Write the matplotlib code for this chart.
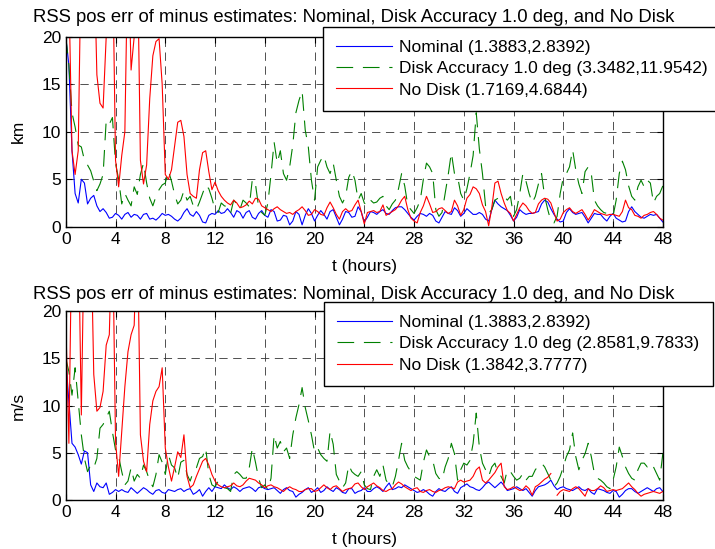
import numpy as np
import matplotlib.pyplot as plt

plt.rcParams['font.family'] = ['Liberation Sans', 'DejaVu Sans']
plt.rcParams['lines.scale_dashes'] = False

# time axis, one sample every quarter hour
t_hours = np.arange(0, 48.01, 0.25)

title_txt = 'RSS pos err of minus estimates: Nominal, Disk Accuracy 1.0 deg, and No Disk'
hour_ticks = list(range(0, 49, 4))
val_ticks = [0, 5, 10, 15, 20]

# ---- position errors (km) ----
nom_km = [20, 17, 8, 3.5, 2.5, 5.0, 4.6, 2.4,
          3.0, 3.3, 2.2, 1.6, 1.9, 1.5, 0.9, 1.0,
          1.4, 1.2, 0.8, 1.3, 1.5, 1.0, 1.3, 1.2,
          0.8, 1.3, 1.4, 0.8, 0.9, 0.7, 1.0, 1.4,
          1.2, 1.3, 1.1, 0.8, 0.6, 0.9, 1.5, 1.9,
          1.3, 1.1, 1.6, 1.2, 0.5, 0.4, 1.2, 1.4,
          1.3, 1.7, 1.4, 1.5, 1.9, 1.5, 1.0, 1.7,
          1.5, 0.9, 1.5, 1.7, 1.0, 0.8, 1.4, 1.7,
          1.2, 1.0, 1.8, 1.6, 0.6, 0.7, 1.2, 1.1,
          0.2, 0.6, 1.6, 1.3, 0.2, 1.2, 1.9, 1.4,
          0.6, 1.2, 1.7, 1.3, 0.8, 1.6, 1.8, 1.0,
          0.2, 0.8, 1.6, 1.5, 1.0, 1.1, 2.1, 1.6,
          0.5, 1.0, 1.6, 1.5, 1.3, 1.6, 1.8, 1.4,
          1.3, 1.7, 2.0, 2.1, 2.1, 1.8, 1.4, 1.0,
          0.7, 1.1, 1.4, 1.3, 1.1, 1.4, 1.2, 0.6,
          0.4, 1.0, 1.6, 1.4, 1.3, 2.0, 1.7, 1.1,
          1.4, 1.9, 1.6, 1.3, 1.3, 1.5, 1.3, 0.8,
          0.6, 1.8, 2.8, 2.4, 2.1, 1.9, 1.7, 1.2,
          0.6, 1.0, 1.8, 1.5, 1.3, 1.4, 1.4, 1.5,
          1.6, 2.4, 2.8, 2.6, 1.9, 1.3, 0.8, 0.5,
          0.6, 1.5, 1.9, 1.5, 1.3, 1.4, 1.5, 1.0,
          0.4, 0.9, 1.4, 1.3, 1.3, 0.9, 0.6, 1.1,
          1.4, 0.9, 0.7, 0.5, 0.6, 1.6, 2.1, 1.6,
          1.3, 1.0, 0.9, 1.1, 1.3, 1.2, 1.3, 0.9,
          0.5]

disk_km = [20, 17, 12, 10.5, 8.6, 8.4, 7.0, 6.5,
           5.9, 4.8, 3.8, 4.5, 5.5, 11.2, 10.8, 11.5,
           6.7, 5.0, 2.4, 3.5, 2.8, 2.2, 4.2, 3.4,
           5.5, 6.7, 4.6, 3.0, 2.2, 3.2, 3.9, 4.4,
           4.6, 5.9, 4.8, 3.4, 2.4, 2.8, 3.8, 2.8,
           3.2, 2.2, 1.8, 2.6, 3.5, 4.4, 4.0, 3.0,
           1.8, 1.5, 2.5, 2.2, 2.1, 1.4, 2.8, 2.4,
           1.8, 2.8, 2.5, 2.1, 5.0, 4.5, 2.1, 1.5,
           1.2, 2.5, 5.5, 8.9, 6.7, 8.0, 5.6, 4.9,
           6.3, 8.6, 12.0, 13.3, 14.3, 10.2, 8.4, 4.9,
           2.8, 6.3, 7.0, 7.5, 6.3, 5.6, 6.7, 4.9,
           3.2, 2.5, 3.2, 5.2, 5.9, 4.9, 2.8, 3.5,
           2.5, 2.2, 2.8, 2.5, 2.6, 3.0, 3.2, 2.2,
           1.8, 2.4, 2.8, 4.0, 5.6, 4.3, 2.2, 1.8,
           1.4, 2.0, 2.8, 5.0, 6.7, 6.3, 5.6, 1.8,
           1.1, 1.5, 3.5, 5.5, 7.8, 5.6, 5.3, 3.5,
           2.8, 4.0, 5.6, 7.5, 12.0, 8.2, 5.6, 2.2,
           1.4, 1.8, 2.8, 3.0, 3.1, 3.2, 2.8, 3.2,
           1.1, 1.8, 3.5, 5.6, 4.8, 3.5, 2.5, 3.2,
           4.5, 5.6, 3.2, 1.8, 0.6, 0.4, 1.1, 3.5,
           5.2, 5.6, 6.3, 8.1, 6.0, 4.5, 3.5, 5.8,
           6.3, 5.6, 2.8, 2.2, 1.8, 1.5, 1.4, 1.2,
           1.1, 2.8, 5.6, 6.9, 6.0, 4.3, 3.2, 2.8,
           4.2, 4.9, 4.2, 4.9, 4.6, 2.5, 3.2, 3.5,
           4.3]

nodisk_km = [30, 25, 8, 5.5, 8, 30, 30, 30,
             25, 30, 16, 13, 12.5, 20, 30, 30,
             7, 4.2, 7.5, 10, 30, 16.5, 20, 30,
             7, 4.5, 6.5, 13.5, 18, 19.5, 19.8, 15,
             5.5, 5.0, 6.0, 8.5, 11, 11.2, 9.5, 5.5,
             3.5, 3.2, 3.0, 6.0, 7.8, 8.0, 5.8, 3.9,
             4.7, 3.8, 3.2, 2.8, 2.5, 2.3, 2.8, 2.5,
             2.0, 2.1, 2.3, 2.7, 2.4, 3.0, 2.9, 2.2,
             2.0, 1.8, 1.6, 1.9, 2.1, 1.8, 1.6, 1.4,
             1.5, 1.3, 1.6, 1.8, 2.1, 1.7, 1.2, 1.3,
             1.8, 1.6, 1.3, 1.2, 2.0, 2.6, 2.0, 1.3,
             0.8, 1.6, 1.9, 1.6, 1.7, 2.3, 2.8, 1.6,
             0.3, 1.5, 1.6, 1.7, 1.5, 1.6, 2.3, 1.2,
             1.4, 1.6, 1.8, 2.2, 2.8, 3.2, 1.8, 0.9,
             0.6, 0.4, 1.5, 2.2, 3.2, 2.4, 1.5, 1.6,
             1.9, 2.0, 1.7, 1.4, 1.6, 2.8, 2.2, 1.2,
             1.8, 3.0, 3.4, 4.2, 4.0, 3.5, 2.3, 1.6,
             0.1, 2.0, 4.6, 4.8, 3.5, 2.5, 1.7, 1.4,
             0.6, 1.3, 2.0, 2.5, 2.2, 1.7, 1.4, 1.5,
             2.4, 2.8, 3.0, 2.9, 2.5, 1.5, 0.6, 0.8,
             1.5, 1.8, 2.0, 1.6, 1.4, 1.6, 1.8, 1.3,
             0.7, 1.2, 1.8, 1.6, 1.4, 1.3, 1.2, 1.3,
             1.3, 1.2, 1.1, 1.6, 2.8, 2.0, 1.8, 1.2,
             1.1, 0.9, 1.2, 1.3, 1.5, 1.6, 1.3, 0.9,
             0.7]

# ---- velocity errors (m/s) ----
nom_ms = [15, 10.4, 6.0, 5.6, 4.8, 3.8, 5.2, 5.0,
          1.6, 0.9, 1.8, 1.4, 1.3, 1.8, 0.6, 0.8,
          1.1, 0.9, 1.1, 0.9, 0.8, 1.3, 1.0, 0.7,
          1.0, 1.3, 1.1, 0.8, 0.6, 1.0, 1.1, 0.8,
          0.7, 1.1, 1.0, 0.9, 1.1, 1.2, 0.9, 1.1,
          1.2, 0.6, 0.8, 1.1, 0.4, 0.9, 1.3, 0.9,
          1.4, 1.3, 1.2, 1.6, 1.3, 1.1, 1.4, 1.2,
          0.9, 1.2, 1.3, 1.4, 1.2, 0.9, 1.3, 1.4,
          1.2, 1.1, 1.2, 1.3, 1.0, 0.7, 1.1, 1.3,
          1.0, 0.9, 0.3, 0.6, 0.8, 1.1, 1.3, 0.8,
          1.0, 1.3, 0.8, 1.0, 1.4, 1.1, 0.9, 1.3,
          1.1, 0.8, 0.7, 1.2, 1.2, 0.7, 0.9, 1.0,
          1.3, 0.9, 0.9, 1.2, 1.4, 1.2, 0.9, 1.4,
          1.8, 1.1, 1.2, 1.4, 1.3, 1.6, 1.4, 1.2,
          1.0, 0.8, 0.9, 1.1, 0.9, 0.6, 0.4, 0.9,
          1.2, 1.0, 0.9, 1.2, 1.4, 0.9, 0.7, 1.3,
          1.5, 1.7, 1.4, 1.3, 1.1, 1.0, 1.3, 1.7,
          1.9, 1.6, 1.3, 1.6, 1.9, 1.5, 1.0, 1.1,
          1.2, 1.4, 1.2, 1.0, 1.2, 0.8, 0.4, 1.0,
          1.4, 1.5, 1.6, 1.8, 2.1, 1.5, 1.1, 1.3,
          1.4, 1.2, 1.1, 1.0, 1.2, 1.4, 1.1, 1.0,
          1.2, 0.8, 0.6, 1.2, 1.1, 1.0, 0.8, 0.7,
          1.0, 0.9, 0.3, 0.6, 1.0, 1.2, 1.2, 0.9,
          0.7, 0.9, 1.1, 1.3, 1.1, 0.9, 1.2, 1.3,
          0.9]

disk_ms = [15, 13.6, 11.1, 14, 10.5, 6.9, 4.4, 3.0,
           3.7, 3.4, 4.4, 7.6, 8.0, 8.7, 9.4, 7.2,
           5.3, 4.6, 3.0, 1.6, 2.0, 3.4, 2.0, 2.7,
           2.3, 3.7, 3.0, 2.0, 1.4, 2.7, 4.8, 4.0,
           2.7, 4.8, 3.7, 3.4, 2.3, 4.0, 4.2, 2.7,
           2.0, 3.0, 3.4, 4.4, 4.6, 5.5, 2.7, 1.6,
           1.4, 2.0, 1.8, 1.3, 1.2, 0.9, 2.7, 3.0,
           2.7, 2.3, 2.3, 3.4, 5.5, 4.0, 2.3, 1.3,
           1.6, 1.1, 2.3, 6.9, 5.5, 6.2, 5.1, 5.5,
           4.4, 6.9, 8.7, 10.1, 11.9, 9.8, 8.4, 6.9,
           5.1, 5.5, 4.8, 4.4, 4.1, 7.3, 5.9, 2.7,
           2.0, 1.3, 1.8, 3.7, 3.0, 2.7, 2.5, 3.0,
           1.6, 1.2, 1.1, 2.5, 3.2, 2.5, 3.7, 2.1,
           1.6, 1.4, 2.5, 4.2, 6.0, 4.2, 3.5, 3.0,
           2.5, 2.3, 2.1, 4.0, 5.3, 4.6, 4.2, 2.8,
           2.3, 2.1, 3.5, 4.4, 6.0, 4.9, 2.1, 3.2,
           3.9, 3.7, 4.2, 6.0, 9.2, 5.6, 3.9, 3.2,
           2.5, 3.5, 3.9, 2.8, 2.5, 1.8, 3.2, 3.0,
           2.5, 2.1, 2.3, 2.8, 2.1, 2.5, 2.5, 3.2,
           3.6, 3.9, 3.5, 2.8, 2.1, 1.4, 1.8, 2.5,
           3.5, 4.6, 5.3, 7.1, 4.6, 3.2, 4.2, 4.9,
           6.0, 4.6, 2.8, 2.3, 2.1, 1.8, 1.4, 1.2,
           2.1, 3.5, 5.6, 4.6, 3.5, 2.8, 2.3, 2.1,
           3.2, 3.9, 3.9, 3.5, 3.9, 3.5, 2.8, 2.1,
           4.9]

nodisk_ms = [19, 6.0, 30, 30, 30, 9, 30, 30,
             30, 13.3, 9.4, 9.8, 11.5, 16.4, 17.5, 30,
             6.2, 2.5, 7.3, 12, 15.7, 17.5, 18.5, 30,
             6.9, 4.1, 3.0, 8.0, 10.5, 11.5, 12, 14,
             5.5, 3.5, 2.0, 3.5, 5.1, 4.5, 6.9, 2.5,
             1.3, 1.6, 2.5, 3.3, 4.1, 4.4, 3.7, 2.7,
             2.0, 1.6, 1.4, 1.3, 1.4, 1.5, 1.8, 1.5,
             1.4, 1.6, 2.0, 2.3, 2.2, 2.1, 1.8, 1.6,
             1.3, 1.5, 1.6, 1.4, 1.3, 1.1, 0.9, 1.2,
             1.4, 1.2, 1.1, 0.9, 0.9, 1.1, 1.2, 1.2,
             0.9, 1.0, 1.3, 1.6, 1.3, 1.1, 1.4, 1.5,
             1.2, 0.9, 1.1, 1.2, 1.3, 1.7, 1.8, 1.4,
             1.1, 1.4, 1.6, 1.8, 1.5, 1.3, 1.0, 0.9,
             1.1, 1.2, 1.6, 1.9, 1.7, 1.4, 1.2, 1.0,
             1.2, 1.3, 0.9, 0.8, 1.0, 1.1, 0.9, 0.8,
             1.0, 1.1, 1.3, 1.4, 1.3, 1.2, 1.9, 2.1,
             1.9, 2.0, 2.1, 2.5, 3.2, 3.5, 2.1, 1.8,
             2.1, 2.5, 2.9, 3.5, 3.9, 1.4, 1.1, 1.2,
             1.4, 1.2, 1.0, 1.1, 1.5, 1.2, 0.5, 1.4,
             1.6, 1.9, 2.2, 2.4, 2.8, np.nan, 0.5, 0.9,
             1.1, 1.0, 0.9, 1.2, 1.4, 1.2, 0.8, 0.4,
             1.2, 1.0, 1.0, 1.2, 1.5, 1.3, 0.9, 1.0,
             1.1, 1.0, 1.1, 1.2, 1.5, 1.8, 1.4, 1.1,
             0.7, 0.4, 0.6, 0.7, 0.8, 0.9, 0.8, 0.7,
             0.9]

labels_km = ['Nominal (1.3883,2.8392)',
             'Disk Accuracy 1.0 deg (3.3482,11.9542)',
             'No Disk (1.7169,4.6844)']
labels_ms = ['Nominal (1.3883,2.8392)',
             'Disk Accuracy 1.0 deg (2.8581,9.7833)',
             'No Disk (1.3842,3.7777)']

FS = 12.5

fig = plt.figure(figsize=(7.15, 5.49), dpi=100)
ax1 = fig.add_axes([0.092, 0.587, 0.835, 0.346])
ax2 = fig.add_axes([0.092, 0.0893, 0.835, 0.344])


def panel(ax, nom, disk, nodisk, labels, ylab, leg_anchor, tpad):
    ax.plot(t_hours, nom, color='#0000ff', lw=0.8, label=labels[0])
    ax.plot(t_hours, disk, color='#008000', lw=0.8, dashes=(12, 7), label=labels[1])
    ax.plot(t_hours, nodisk, color='#ff0000', lw=0.8, label=labels[2])
    ax.set_xlim(0, 48)
    ax.set_ylim(0, 20)
    ax.set_xticks(hour_ticks)
    ax.set_yticks(val_ticks)
    ax.set_axisbelow(True)
    ax.grid(True, color='0.2', linestyle=(0, (6, 4)), linewidth=0.6)
    ax.tick_params(direction='in', top=True, right=True, labelsize=FS, length=4)
    for s in ax.spines.values():
        s.set_linewidth(1.0)
    ax.set_title(title_txt, fontsize=13.3, pad=tpad, x=0.483)
    ax.set_xlabel('t (hours)', fontsize=FS, labelpad=9)
    ax.set_ylabel(ylab, fontsize=FS, labelpad=11)
    leg = ax.legend(loc='upper left', bbox_to_anchor=leg_anchor,
                    bbox_transform=fig.transFigure, fontsize=FS,
                    fancybox=False, framealpha=1, edgecolor='k',
                    borderpad=0.75, labelspacing=0.35, handlelength=3.2,
                    handletextpad=0.4, borderaxespad=0)
    leg.get_frame().set_linewidth(1.0)


panel(ax1, nom_km, disk_km, nodisk_km, labels_km, 'km', (0.452, 0.951), 11)
panel(ax2, nom_ms, disk_ms, nodisk_ms, labels_ms, 'm/s', (0.453, 0.450), 9)

fig.savefig('out.png', dpi=100)
